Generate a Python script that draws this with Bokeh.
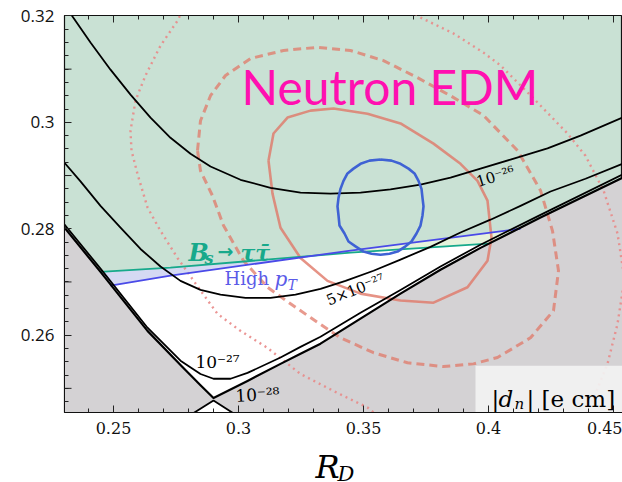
import numpy as np
from bokeh.plotting import figure
from bokeh.models import Range1d, FixedTicker, Label
from bokeh.embed import file_html
from bokeh.resources import INLINE

# ---------------- data (R_D, R_D*) ----------------
# |d_n| = 1e-26 contour
c26_x = [0.2316, 0.2336, 0.2408, 0.2488, 0.2568, 0.2648, 0.2728, 0.2808, 0.2888, 0.3008,
         0.3128, 0.3248, 0.3368, 0.3488, 0.3608, 0.3728, 0.3848, 0.3968, 0.4088, 0.4236,
         0.4368, 0.4536]
c26_y = [0.3214, 0.3199, 0.3150, 0.3099, 0.3052, 0.3009, 0.2971, 0.2941, 0.2917, 0.2892,
         0.2877, 0.2868, 0.2866, 0.2868, 0.2874, 0.2883, 0.2896, 0.2913, 0.2930, 0.2951,
         0.2975, 0.3009]
# |d_n| = 5e-27 contour
c5_x = [0.2304, 0.2368, 0.2448, 0.2528, 0.2608, 0.2688, 0.2768, 0.2848, 0.2928, 0.3028,
        0.3128, 0.3228, 0.3328, 0.3428, 0.3540, 0.3648, 0.3768, 0.3888, 0.4008, 0.4128,
        0.4248, 0.4388, 0.4536]
c5_y = [0.2924, 0.2889, 0.2843, 0.2802, 0.2762, 0.2729, 0.2702, 0.2685, 0.2676, 0.2670,
        0.2670, 0.2676, 0.2687, 0.2702, 0.2721, 0.2742, 0.2766, 0.2793, 0.2817, 0.2843,
        0.2870, 0.2894, 0.2922]
# |d_n| = 1e-27 contour
c27_x = [0.2304, 0.2448, 0.2636, 0.2768, 0.2848, 0.2900, 0.2968, 0.3036, 0.3168, 0.3248,
         0.3328, 0.3488, 0.3648, 0.3808, 0.3968, 0.4208, 0.4536]
c27_y = [0.2808, 0.2725, 0.2614, 0.2552, 0.2527, 0.2518, 0.2518, 0.2529, 0.2558, 0.2578,
         0.2597, 0.2642, 0.2685, 0.2729, 0.2770, 0.2826, 0.2902]
# |d_n| = 1e-28 contour (upper branch = boundary of grey region)
v_x = [0.2304, 0.2448, 0.2636, 0.2768, 0.2848, 0.2900, 0.3036, 0.3168, 0.3248, 0.3328,
       0.3488, 0.3648, 0.3808, 0.3968, 0.4208, 0.4536]
v_y = [0.2802, 0.2719, 0.2608, 0.2544, 0.2506, 0.2482, 0.2514, 0.2546, 0.2565, 0.2584,
       0.2631, 0.2678, 0.2723, 0.2764, 0.2821, 0.2896]
# |d_n| = 1e-28 contour (lower branch)
lv_x = [0.2808, 0.2900, 0.2990]
lv_y = [0.2450, 0.2477, 0.2450]
# Bs -> tau tau bound
teal_x = [0.2448, 0.2728, 0.3448, 0.3968, 0.4000]
teal_y = [0.2719, 0.2727, 0.2755, 0.2771, 0.2772]
# High pT bound
blue_x = [0.2488, 0.2728, 0.2928, 0.3448, 0.4128]
blue_y = [0.2693, 0.2712, 0.2725, 0.2759, 0.2800]
# blue contour
bc_x = [0.3568, 0.3612, 0.3648, 0.3680, 0.3704, 0.3720, 0.3732, 0.3736, 0.3740, 0.3736,
        0.3728, 0.3712, 0.3692, 0.3668, 0.3636, 0.3604, 0.3568, 0.3532, 0.3500, 0.3468,
        0.3440, 0.3424, 0.3404, 0.3400, 0.3396, 0.3400, 0.3408, 0.3420, 0.3436, 0.3460,
        0.3488, 0.3524, 0.3568]
bc_y = [0.2930, 0.2928, 0.2922, 0.2913, 0.2904, 0.2890, 0.2875, 0.2858, 0.2842, 0.2825,
        0.2806, 0.2791, 0.2776, 0.2767, 0.2757, 0.2753, 0.2751, 0.2753, 0.2757, 0.2767,
        0.2776, 0.2791, 0.2806, 0.2825, 0.2842, 0.2858, 0.2875, 0.2890, 0.2904, 0.2913,
        0.2922, 0.2928, 0.2930]
# 1 sigma (solid)
s1_x = [0.3120, 0.3140, 0.3196, 0.3288, 0.3380, 0.3516, 0.3648, 0.3780, 0.3888, 0.3956,
        0.3996, 0.4012, 0.3996, 0.3916, 0.3780, 0.3648, 0.3488, 0.3356, 0.3248, 0.3168,
        0.3136, 0.3120]
s1_y = [0.2928, 0.2979, 0.3009, 0.3022, 0.3026, 0.3016, 0.2998, 0.2960, 0.2922, 0.2890,
        0.2853, 0.2783, 0.2740, 0.2690, 0.2661, 0.2665, 0.2678, 0.2702, 0.2745, 0.2802,
        0.2866, 0.2928]
# 2 sigma (dashed)
s2_x = [0.2836, 0.2848, 0.2888, 0.2948, 0.3048, 0.3180, 0.3316, 0.3448, 0.3580, 0.3716,
        0.3848, 0.3980, 0.4116, 0.4208, 0.4256, 0.4280, 0.4260, 0.4168, 0.4036, 0.3940,
        0.3820, 0.3676, 0.3540, 0.3408, 0.3288, 0.3208, 0.3116, 0.3020, 0.2940, 0.2896,
        0.2848, 0.2836]
s2_y = [0.2947, 0.3003, 0.3050, 0.3088, 0.3120, 0.3135, 0.3141, 0.3135, 0.3116, 0.3084,
        0.3050, 0.3013, 0.2947, 0.2872, 0.2796, 0.2721, 0.2646, 0.2595, 0.2558, 0.2546,
        0.2541, 0.2548, 0.2567, 0.2595, 0.2633, 0.2659, 0.2690, 0.2740, 0.2806, 0.2862,
        0.2909, 0.2947]
# 3 sigma (dotted), two visible pieces
s3a_x = [0.2776, 0.2756, 0.2688, 0.2628, 0.2588, 0.2568, 0.2572, 0.2596, 0.2636, 0.2688,
         0.2756, 0.2848, 0.2916, 0.3008, 0.3116, 0.3248, 0.3380, 0.3516, 0.3560]
s3a_y = [0.3210, 0.3191, 0.3144, 0.3088, 0.3041, 0.2984, 0.2947, 0.2903, 0.2840, 0.2796,
         0.2745, 0.2684, 0.2640, 0.2608, 0.2576, 0.2527, 0.2495, 0.2464, 0.2447]
s3b_x = [0.3688, 0.3728, 0.3860, 0.3980, 0.4048, 0.4180, 0.4316, 0.4388, 0.4460, 0.4516,
         0.4544, 0.4516, 0.4476, 0.4416, 0.4384]
s3b_y = [0.3210, 0.3197, 0.3167, 0.3131, 0.3107, 0.3045, 0.2979, 0.2937, 0.2872, 0.2791,
         0.2706, 0.2621, 0.2546, 0.2476, 0.2447]

x_major = [0.25, 0.3, 0.35, 0.4, 0.45]
x_labels = ["0.25", "0.3", "0.35", "0.4", "0.45"]
x_minor = [0.23, 0.24, 0.26, 0.27, 0.28, 0.29, 0.31, 0.32, 0.33, 0.34, 0.36, 0.37, 0.38,
           0.39, 0.41, 0.42, 0.43, 0.44]
y_major = [0.26, 0.28, 0.3, 0.32]
y_labels = ["0.26", "0.28", "0.3", "0.32"]
y_mid = [0.25, 0.27, 0.29, 0.31]
y_minor = [0.2475, 0.25, 0.2525, 0.255, 0.2575, 0.2625, 0.265, 0.2675, 0.27, 0.2725,
           0.275, 0.2775, 0.2825, 0.285, 0.2875, 0.29, 0.2925, 0.295, 0.2975,
           0.3025, 0.305, 0.3075, 0.31, 0.3125, 0.315, 0.3175]

# ---------------- figure ----------------
XL, XR = 0.2304, 0.4536
YB, YT = 0.24546, 0.32008
PX_X = 2500.0   # screen px per unit of R_D
PX_Y = 5317.0   # screen px per unit of R_D*


def X(px):
    return XL + (px - 64) / PX_X


def Y(py):
    return 0.32 - (py - 15.4) / PX_Y


p = figure(width=622, height=482, x_range=Range1d(XL, XR), y_range=Range1d(YB, YT),
           output_backend="svg", toolbar_location=None,
           min_border_left=64, min_border_right=0, min_border_top=15, min_border_bottom=70)
p.background_fill_color = "#c9e1d4"
p.border_fill_color = "white"
p.grid.visible = False
p.outline_line_color = "#111111"
p.outline_line_width = 1.2

GREY = "#d4d2d4"
xg = np.linspace(XL, XR, 900)
v = np.interp(xg, v_x, v_y)
p.varea(x=xg, y1=np.full_like(xg, 0.2440), y2=v, fill_color=GREY)

ti = np.interp(xg, teal_x, teal_y)
bi = np.interp(xg, blue_x, blue_y)
dom = (xg >= teal_x[0]) & (xg <= blue_x[-1])
lo = np.where(dom, np.maximum(v, np.minimum(ti, bi)), v)
hi = np.where(dom, np.maximum(v, np.maximum(ti, bi)), v)
p.varea(x=xg, y1=v, y2=lo, fill_color="white")
p.varea(x=xg, y1=lo, y2=np.where(bi < ti, hi, lo), fill_color="#d5d9f3")
p.varea(x=xg, y1=lo, y2=np.where(bi >= ti, hi, lo), fill_color="#e6f3dc")

p.patch(lv_x, lv_y, fill_color="white", line_color="black", line_width=1.8)

SAL = "#e07868"
p.line(s3a_x, s3a_y, line_color="#e98a88", line_width=2.4, line_dash="2 4", line_alpha=0.9)
p.line(s3b_x, s3b_y, line_color="#e98a88", line_width=2.4, line_dash="2 4", line_alpha=0.9)
p.line(s2_x, s2_y, line_color=SAL, line_width=3, line_dash="8 5", line_alpha=0.75,
       line_join="round")
p.line(s1_x, s1_y, line_color=SAL, line_width=2.6, line_alpha=0.8, line_join="round")

p.line(teal_x, teal_y, line_color="#17a98b", line_width=1.8)
p.line(blue_x, blue_y, line_color="#4a4ae8", line_width=1.8)

for cx, cy, w in ((c26_x, c26_y, 1.8), (c5_x, c5_y, 1.8), (c27_x, c27_y, 1.8),
                  (v_x, v_y, 2.2)):
    p.line(cx, cy, line_color="black", line_width=w, line_join="round")

p.line(bc_x, bc_y, line_color="#3f62d4", line_width=2.6, line_join="round")

p.quad(left=X(475), right=0.46, bottom=0.244, top=Y(365), fill_color="#f2f2f2",
       fill_alpha=0.92, line_color=None)

# ---------------- axes ----------------
p.xaxis.ticker = FixedTicker(ticks=x_major, minor_ticks=x_minor)
p.xaxis.major_label_overrides = dict(zip(x_major, x_labels))
p.yaxis.ticker = FixedTicker(ticks=y_major, minor_ticks=y_minor)
p.yaxis.major_label_overrides = dict(zip(y_major, y_labels))
for ax in (p.xaxis[0], p.yaxis[0]):
    ax.major_tick_in = 7
    ax.major_tick_out = 0
    ax.minor_tick_in = 4
    ax.minor_tick_out = 0
    ax.axis_line_color = "#111111"
    ax.major_tick_line_color = "#222222"
    ax.minor_tick_line_color = "#222222"
    ax.major_label_text_color = "#111111"
p.xaxis.major_label_text_font = "DejaVu Serif"
p.xaxis.major_label_text_font_size = "16px"
p.xaxis.major_label_standoff = 9
p.yaxis.major_label_text_font = "Open Sans"
p.yaxis.major_label_text_font_size = "17px"
p.yaxis.major_label_standoff = 10

# longer unlabeled y ticks and ticks along the top edge
p.segment(x0=[XL] * len(y_mid), x1=[XL + 7 / PX_X] * len(y_mid), y0=y_mid, y1=y_mid,
          line_color="#222222", line_width=1)
p.segment(x0=x_major, x1=x_major, y0=[YT] * len(x_major),
          y1=[YT - 7 / PX_Y] * len(x_major), line_color="#222222", line_width=1)
p.segment(x0=x_minor, x1=x_minor, y0=[YT] * len(x_minor),
          y1=[YT - 4 / PX_Y] * len(x_minor), line_color="#222222", line_width=1)


def lab(px, py, text, size, color="black", font="DejaVu Serif", style="normal",
        angle=0, align="left", baseline="alphabetic"):
    p.add_layout(Label(x=X(px), y=Y(py), text=text, text_font=font, text_font_size=size,
                       text_color=color, text_font_style=style, angle=angle,
                       angle_units="deg", text_align=align, text_baseline=baseline))


lab(241, 86, "Neutron EDM", "48px", color="#ff10b0", font="Lato")

lab(495, 176, "10⁻²⁶", "15px", angle=17, align="center", baseline="middle")
lab(355, 289, "5×10⁻²⁷", "15px", angle=22, align="center", baseline="middle")
lab(217, 361, "10⁻²⁷", "17px", align="center", baseline="middle")
lab(257, 394, "10⁻²⁸", "17px", angle=3, align="center", baseline="middle")

TEAL = "#17a98b"
lab(188, 252, "B", "24px", color=TEAL, style="bold italic")
lab(204, 258, "s", "16px", color=TEAL, style="bold italic")
lab(217, 250, "→", "19px", color=TEAL, font="DejaVu Sans", style="bold")
lab(240, 252, "ττ̄", "22px", color=TEAL, style="bold italic")

BLU = "#5b5be8"
lab(224, 278, "High", "18px", color=BLU)
lab(274, 278, "p", "20px", color=BLU, style="italic")
lab(287, 284, "T", "14px", color=BLU, style="italic")

lab(491, 398, "|", "23px")
lab(498, 398, "d", "23px", style="italic")
lab(514, 403, "n", "15px", style="italic")
lab(526, 398, "| [e cm]", "23px")

# axis title R_D, placed in canvas pixels from side panels (not clipped by the frame)
p.add_layout(Label(x=315, y=466, x_units="canvas", y_units="canvas", text="R",
                   text_font="DejaVu Serif", text_font_size="32px", text_font_style="italic",
                   text_color="black", text_baseline="alphabetic"), "below")
p.add_layout(Label(x=337, y=473, x_units="canvas", y_units="canvas", text="D",
                   text_font="DejaVu Serif", text_font_size="21px", text_font_style="italic",
                   text_color="black", text_baseline="alphabetic"), "left")

open("out.html", "w").write(file_html(p, INLINE))
